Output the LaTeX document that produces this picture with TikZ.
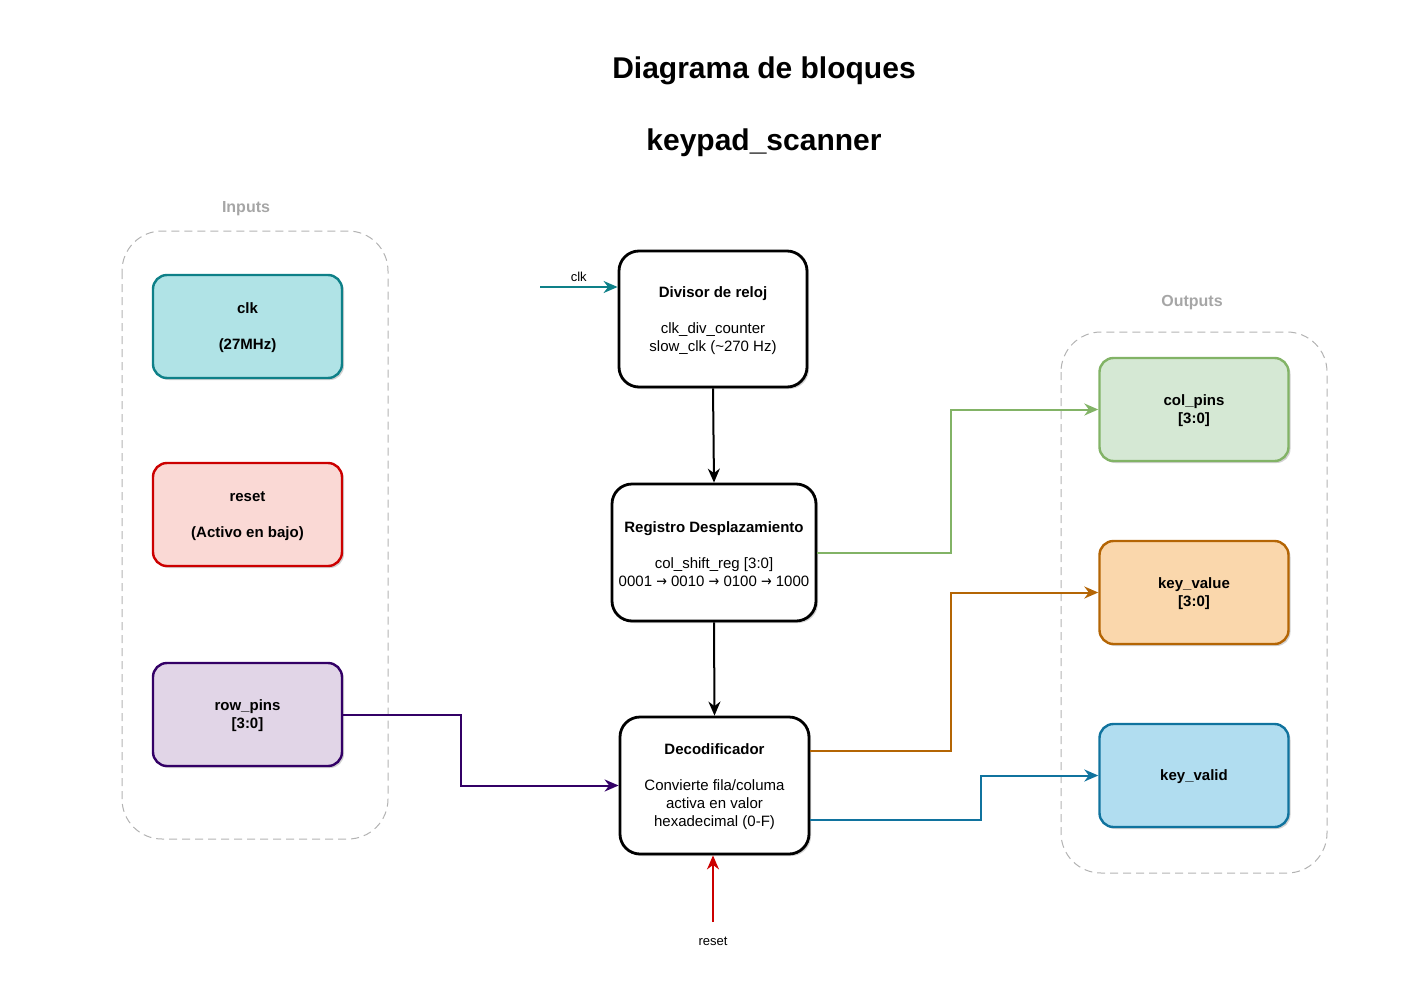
\documentclass[tikz,border=0pt]{standalone}
\usepackage{fontspec}
\usepackage{graphicx}
\setmainfont{Liberation Sans}
\newfontfamily\djv{DejaVu Sans}
\usetikzlibrary{arrows.meta,shadows,positioning}
\definecolor{tealS}{HTML}{0E8088}
\definecolor{tealF}{HTML}{B0E3E6}
\definecolor{redS}{HTML}{CC0000}
\definecolor{redF}{HTML}{FAD9D5}
\definecolor{purS}{HTML}{330066}
\definecolor{purF}{HTML}{E1D5E7}
\definecolor{grnS}{HTML}{82B366}
\definecolor{grnF}{HTML}{D5E8D4}
\definecolor{orgS}{HTML}{B46504}
\definecolor{orgF}{HTML}{FAD7AC}
\definecolor{bluS}{HTML}{10739E}
\definecolor{bluF}{HTML}{B1DDF0}
\definecolor{grayL}{HTML}{A6A6A6}
\definecolor{grayD}{HTML}{B3B3B3}
\newcommand{\rarr}{\scalebox{0.85}[1]{\djv →}}
\tikzset{
  pinbox/.style={draw, line width=2.4pt, rounded corners=14pt, minimum width=189pt, minimum height=103pt,
    align=center, font=\fontsize{15}{18}\selectfont\bfseries,
    drop shadow={shadow xshift=2pt, shadow yshift=-2pt, opacity=0.18, fill=black}},
  blockbox/.style={draw=black, fill=white, line width=2.8pt, rounded corners=20pt, align=center,
    font=\fontsize{15}{18}\selectfont,
    drop shadow={shadow xshift=2pt, shadow yshift=-2pt, opacity=0.18, fill=black}},
  group/.style={draw=grayD, line width=1pt, dash pattern=on 8pt off 5pt, rounded corners=40pt},
  grouplabel/.style={text=grayL, font=\fontsize{16}{19}\selectfont\bfseries},
  wire/.style={line width=2pt, -{Stealth[length=14pt,width=12pt,inset=4.5pt]}},
  title/.style={font=\fontsize{30}{36}\selectfont\bfseries}
}
\begin{document}
\begin{tikzpicture}[x=1pt,y=-1pt]
\useasboundingbox (0,0) rectangle (1428,983);

% titles
\node[title] (t1) at (764,71) {Diagrama de bloques};
\node[title] (t2) at (764,143) {keypad\_scanner};

% groups
\draw[group] (122,231) rectangle (388,839);
\node[grouplabel] (inlab) at (246,209) {Inputs};
\draw[group] (1061,332) rectangle (1327,873);
\node[grouplabel] (outlab) at (1192,303) {Outputs};

% input boxes
\node[pinbox, draw=tealS, fill=tealF] (clk) at (247.5,326.5) {\rule{0pt}{14pt}clk\\\mbox{}\\(27MHz)};
\node[pinbox, draw=redS, fill=redF] (reset) at (247.5,514.5) {\rule{0pt}{14pt}reset\\\mbox{}\\(Activo en bajo)};
\node[pinbox, draw=purS, fill=purF] (rowpins) at (247.5,714.5) {\rule{0pt}{14pt}row\_pins\\{}[3:0]};

% output boxes
\node[pinbox, draw=grnS, fill=grnF] (colpins) at (1194,409.5) {\rule{0pt}{14pt}col\_pins\\{}[3:0]};
\node[pinbox, draw=orgS, fill=orgF] (keyvalue) at (1194,592.5) {\rule{0pt}{14pt}key\_value\\{}[3:0]};
\node[pinbox, draw=bluS, fill=bluF] (keyvalid) at (1194,775.5) {\rule{0pt}{14pt}key\_valid};

% central blocks
\node[blockbox, minimum width=188pt, minimum height=136pt] (div) at (713,319)
  {\rule{0pt}{14pt}\textbf{Divisor de reloj}\\\mbox{}\\clk\_div\_counter\\slow\_clk (\textasciitilde 270 Hz)};
\node[blockbox, minimum width=204pt, minimum height=137pt] (reg) at (714,552.5)
  {\rule{0pt}{14pt}\textbf{Registro Desplazamiento}\\\mbox{}\\col\_shift\_reg [3:0]\\0001 \rarr{} 0010 \rarr{} 0100 \rarr{} 1000};
\node[blockbox, minimum width=189pt, minimum height=137pt] (dec) at (714.5,785.5)
  {\rule{0pt}{14pt}\textbf{Decodificador}\\\mbox{}\\Convierte fila/columa\\activa en valor\\hexadecimal (0-F)};

% clk input
\coordinate (clkin) at (540,287);
\draw[wire, draw=tealS] (clkin) -- (div.west |- clkin)
  node[midway, above=1pt, text=black, font=\fontsize{13}{15}\selectfont] (clklab) {clk};

% vertical flow
\draw[wire, draw=black] (div.south) -- (reg.north);
\draw[wire, draw=black] (reg.south) -- (dec.north);

% row pins to decoder
\draw[wire, draw=purS] (rowpins.east) -- ++(118,0) |- (dec.west);

% outputs
\draw[wire, draw=grnS] (reg.east) -- ++(134,0) |- (colpins.west);
\draw[wire, draw=orgS] ([yshift=34.5pt]dec.east) -- ++(141,0) |- (keyvalue.west);
\draw[wire, draw=bluS] ([yshift=-34.5pt]dec.east) -- ++(171,0) |- (keyvalid.west);

% reset input
\coordinate (rst) at (713,922);
\draw[wire, draw=redS] (rst) -- (rst |- dec.south);
\node[font=\fontsize{13}{15}\selectfont] (rstlab) at (713,941) {reset};
\end{tikzpicture}
\end{document}
